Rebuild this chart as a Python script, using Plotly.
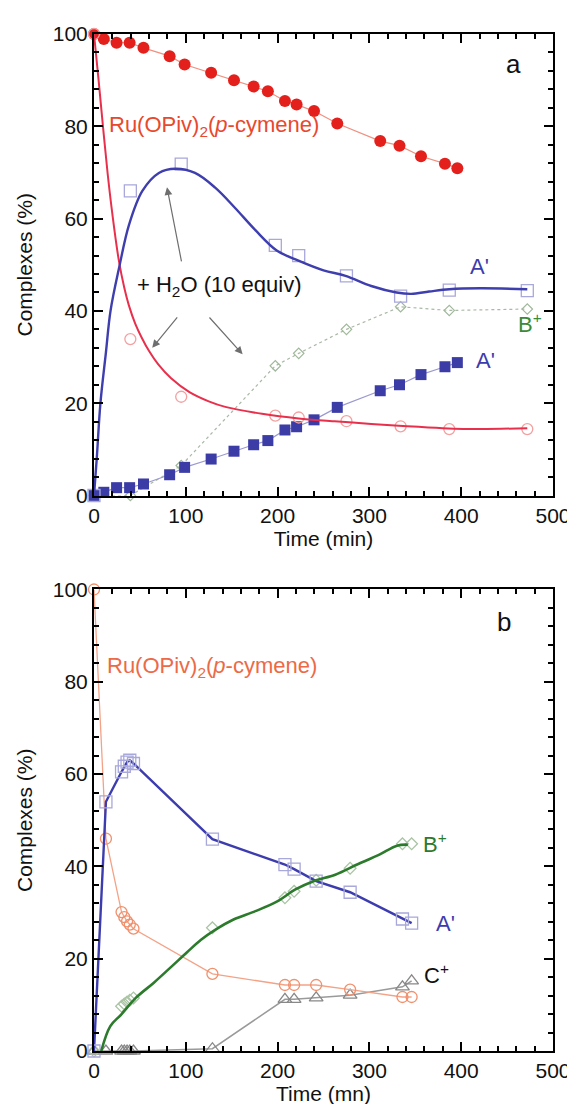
import plotly.graph_objects as go
from plotly.subplots import make_subplots

# ---------------- Panel a data ----------------
t_a_filled = [0, 10.7, 24.6, 38.8, 53.9, 82.4, 98.7, 127.6, 152.5, 173.9, 189.4, 208, 220.7,
              239.7, 265, 311.8, 332.8, 356.2, 382.3, 395.8]
ru_a_filled = [100, 98.9, 98.1, 98.1, 97, 95.2, 93.4, 91.6, 90, 88.6, 87.6, 85.5, 84.7,
               83.3, 80.6, 76.8, 75.8, 73.5, 71.9, 70.9]
a_a_filled = [0, 0.7, 1.7, 1.7, 2.5, 4.5, 6.1, 7.9, 9.6, 11, 11.9, 14.2, 14.9,
              16.4, 19.1, 22.7, 24, 26.2, 27.9, 28.8]

t_a_open = [0, 39.6, 95, 197.5, 223, 275, 334, 387, 472]
a_a_open = [0, 66, 71.8, 54.2, 52, 47.6, 43.2, 44.5, 44.4]
ru_a_open = [100, 33.9, 21.4, 17.3, 16.9, 16.1, 15.0, 14.4, 14.4]
b_a_open = [0, 0, 6.5, 28.1, 30.8, 36, 40.9, 40.1, 40.4]

t_ru_fit = [0, 5, 10, 15, 20, 27, 33, 38, 45, 52, 60, 70, 84, 104, 125, 143, 183, 223,
            262, 302, 341, 380, 420, 472]
ru_fit = [100, 90, 79.5, 69.5, 61, 51, 45, 41.2, 37.2, 34.2, 31.3, 28.4, 25.4, 22.4, 20.4,
          19.2, 17.7, 16.7, 16.1, 15.5, 15.0, 14.6, 14.4, 14.6]
t_a_fit = [0, 3, 7, 13, 18, 27.4, 38.2, 52.7, 70.7, 88.7, 110, 132, 153.7, 175.3, 199,
           222.7, 250, 274, 302, 329.6, 345.5, 365, 387, 420.8, 472]
a_fit = [0, 8, 20, 31, 40, 49.4, 58.7, 66, 69.9, 70.8, 69.9, 66.7, 62.3, 57.6, 53.1,
         50.9, 48.8, 47.6, 45.4, 44, 43.7, 44.2, 44.7, 44.9, 44.7]

# ---------------- Panel b data ----------------
t_b = [0, 13, 30, 33, 36, 39, 43, 129, 208, 218, 242, 279, 336, 346]
ru_b = [100, 46, 30.1, 29, 28.1, 27.4, 26.5, 16.7, 14.3, 14.3, 14.3, 13.3, 11.7, 11.7]
a_b = [0, 54, 60.5, 61.7, 62.6, 63, 62.3, 45.9, 40.4, 39.4, 36.8, 34.4, 28.6, 27.7]
t_b_green = [0, 30, 33, 36, 39, 43, 129, 208, 218, 242, 279, 336, 346]
b_b = [0, 9.7, 10.2, 10.6, 11, 11.5, 26.7, 33.2, 34.6, 37, 39.6, 44.9, 44.9]
c_b = [0, 0, 0, 0, 0, 0, 0, 0.5, 11.2, 11.2, 11.5, 12.1, 13.9, 15.2]

t_b_fit = [7.9, 17.8, 29.6, 45.5, 65.2, 85, 100.8, 116.6, 132.4, 152, 175.9, 199.6, 219.4,
           239.1, 262.8, 286.6, 310.3, 330, 341.9]
b_fit = [0, 5.4, 7.9, 11.5, 14.8, 18.4, 21.3, 24.1, 26.3, 28.5, 30.3, 32.4, 35, 36.8,
         38.2, 40.4, 42.5, 44.5, 44.7]

x_ticks = [0, 100, 200, 300, 400, 500]
y_ticks = [0, 20, 40, 60, 80, 100]

FONT = "Liberation Sans, Arial, Helvetica, sans-serif"

fig = make_subplots(rows=2, cols=1, vertical_spacing=0.0924)

# Panel a traces
fig.add_trace(go.Scatter(x=t_a_open, y=b_a_open, mode="lines+markers",
                         line=dict(color="#a9b9a6", width=1.2, dash="dot"),
                         marker=dict(symbol="diamond-open", size=8, color="#a0b89c", line=dict(width=1.2)),
                         cliponaxis=False), row=1, col=1)
fig.add_trace(go.Scatter(x=t_a_filled, y=ru_a_filled, mode="lines+markers",
                         line=dict(color="#f09080", width=1.2),
                         marker=dict(symbol="circle", size=12, color="#e3201c"),
                         cliponaxis=False), row=1, col=1)
fig.add_trace(go.Scatter(x=t_a_filled, y=a_a_filled, mode="lines+markers",
                         line=dict(color="#9a9ad0", width=1.2),
                         marker=dict(symbol="square", size=11, color="#3c3ca6"),
                         cliponaxis=False), row=1, col=1)
fig.add_trace(go.Scatter(x=t_a_open, y=ru_a_open, mode="markers",
                         marker=dict(symbol="circle-open", size=11, color="#f4a0a0", line=dict(width=1.3)),
                         cliponaxis=False), row=1, col=1)
fig.add_trace(go.Scatter(x=t_a_open, y=a_a_open, mode="markers",
                         marker=dict(symbol="square-open", size=12, color="#a8a8da", line=dict(width=1.3)),
                         cliponaxis=False), row=1, col=1)
fig.add_trace(go.Scatter(x=t_ru_fit, y=ru_fit, mode="lines", line=dict(color="#e8304c", width=2, shape="spline"),
                         cliponaxis=False), row=1, col=1)
fig.add_trace(go.Scatter(x=t_a_fit, y=a_fit, mode="lines", line=dict(color="#3e3eae", width=2.4, shape="spline"),
                         cliponaxis=False), row=1, col=1)

# Panel b traces
fig.add_trace(go.Scatter(x=t_b, y=c_b, mode="lines+markers",
                         line=dict(color="#9a9a9a", width=1.5),
                         marker=dict(symbol="triangle-up-open", size=12, color="#888888", line=dict(width=1.3)),
                         cliponaxis=False), row=2, col=1)
fig.add_trace(go.Scatter(x=t_b, y=ru_b, mode="lines+markers",
                         line=dict(color="#f4a286", width=1.3),
                         marker=dict(symbol="circle-open", size=11, color="#f0906c", line=dict(width=1.3)),
                         cliponaxis=False), row=2, col=1)
fig.add_trace(go.Scatter(x=t_b_green, y=b_b, mode="markers",
                         marker=dict(symbol="diamond-open", size=9, color="#aac4a4", line=dict(width=1.3)),
                         cliponaxis=False), row=2, col=1)
fig.add_trace(go.Scatter(x=t_b, y=a_b, mode="lines+markers",
                         line=dict(color="#3c3cae", width=2.4),
                         marker=dict(symbol="square-open", size=12, color="#a8a8da", line=dict(width=1.3)),
                         cliponaxis=False), row=2, col=1)
fig.add_trace(go.Scatter(x=t_b_fit, y=b_fit, mode="lines", line=dict(color="#2c7a2c", width=2.6, shape="spline"),
                         cliponaxis=False), row=2, col=1)

axis_common = dict(showline=True, linewidth=2, linecolor="black", mirror="ticks",
                   ticks="inside", ticklen=9, tickwidth=1.5, tickcolor="black",
                   showgrid=False, zeroline=False,
                   tickfont=dict(family=FONT, size=21, color="#111"))

for r, xtitle in [(1, "Time (min)"), (2, "Time (mn)")]:
    fig.update_xaxes(range=[0, 500], tickvals=x_ticks, ticktext=[str(v) for v in x_ticks],
                     minor=dict(ticks="inside", ticklen=5, tickwidth=1.5, tickcolor="black", dtick=20),
                     title=dict(text=xtitle, font=dict(family=FONT, size=21, color="#111"), standoff=2),
                     row=r, col=1, **axis_common)
    fig.update_yaxes(range=[0, 100], tickvals=y_ticks, ticktext=[str(v) for v in y_ticks],
                     minor=dict(ticks="inside", ticklen=5, tickwidth=1.5, tickcolor="black", dtick=4),
                     title=dict(text="Complexes (%)", font=dict(family=FONT, size=21, color="#111"), standoff=14),
                     row=r, col=1, **axis_common)

def txt(x, y, text, color, xref, yref, size=22, xanchor="center"):
    fig.add_annotation(x=x, y=y, text=text, xref=xref, yref=yref, showarrow=False,
                       font=dict(family=FONT, size=size, color=color), xanchor=xanchor, yanchor="middle")

txt(457, 93.4, "a", "#111", "x", "y", size=26)
txt(14.7, 80, "Ru(OPiv)<sub>2</sub>(<i>p</i>-cymene)", "#e8482e", "x", "y", xanchor="left")
txt(420, 49.7, "A'", "#3c3cae", "x", "y")
txt(475, 37.4, "B<sup>+</sup>", "#3a8a3a", "x", "y")
txt(427, 29.2, "A'", "#3c3cae", "x", "y")
txt(44.4, 45.4, "+ H<sub>2</sub>O (10 equiv)", "#111", "x", "y", xanchor="left")

arrows = [((79.5, 66.8), (95.6, 50.4)), ((63.4, 32.0), (92.0, 38.9)), ((161.9, 30.6), (124.3, 38.9))]
for (hx, hy), (tx, ty) in arrows:
    fig.add_annotation(x=hx, y=hy, ax=tx, ay=ty, xref="x", yref="y", axref="x", ayref="y",
                       showarrow=True, arrowhead=2, arrowsize=1.3, arrowwidth=1.2, arrowcolor="#6e6e6e", text="")

txt(446.6, 93, "b", "#111", "x2", "y2", size=26)
txt(11.9, 83.2, "Ru(OPiv)<sub>2</sub>(<i>p</i>-cymene)", "#ec6a46", "x2", "y2", xanchor="left")
txt(371.5, 45, "B<sup>+</sup>", "#2c7a2c", "x2", "y2")
txt(383.4, 27.7, "A'", "#3c3cae", "x2", "y2")
txt(373.5, 16.6, "C<sup>+</sup>", "#111", "x2", "y2")

fig.update_layout(width=575, height=1104, showlegend=False,
                  margin=dict(l=86, r=24, t=26, b=61),
                  paper_bgcolor="white", plot_bgcolor="white",
                  font=dict(family=FONT))

fig.write_html("out.html")
